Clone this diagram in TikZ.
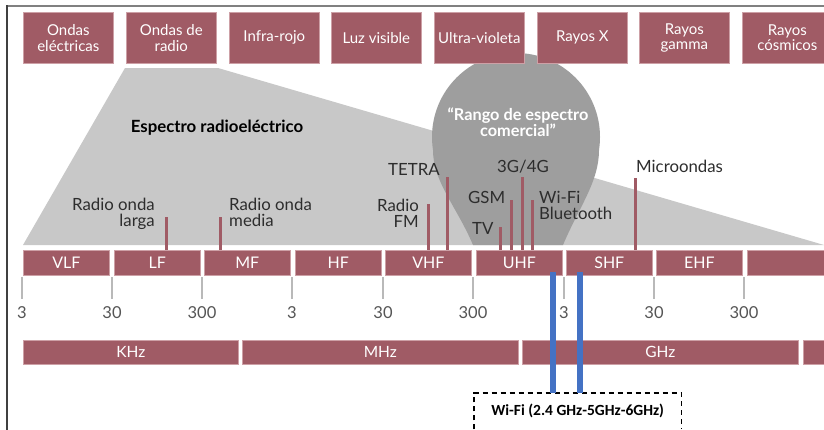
\documentclass[tikz,border=0pt]{standalone}
\usepackage{fontspec}
\setmainfont{Lato}
\newfontfamily\calfont{Carlito}
\definecolor{myred}{RGB}{160,91,101}
\definecolor{myredlight}{RGB}{205,160,166}
\definecolor{lightgraybg}{RGB}{200,200,200}
\definecolor{dropgray}{RGB}{158,158,158}
\definecolor{tickgray}{RGB}{185,185,185}
\definecolor{numgray}{RGB}{85,85,85}
\definecolor{lblgray}{RGB}{45,45,45}
\definecolor{wifiblue}{RGB}{68,114,196}
\definecolor{framegray}{RGB}{128,128,128}
\definecolor{framedark}{RGB}{64,64,64}
\begin{document}
\begin{tikzpicture}[x=1pt,y=-1pt,
 topbox/.style={anchor=north west, fill=myred, draw=myredlight, line width=0.7pt, text=white, minimum width=90pt, minimum height=51pt, inner sep=0pt, align=center, font=\fontsize{15}{15.5}\selectfont},
 bandbox/.style={anchor=north west, fill=myred, draw=myredlight, line width=0.6pt, text=white, minimum width=86pt, minimum height=25pt, inner sep=0pt, font=\fontsize{16}{16}\selectfont},
 unitbar/.style={anchor=north west, fill=myred, draw=myredlight, line width=0.6pt, text=white, minimum height=24pt, inner sep=0pt, font=\fontsize{15.5}{16}\selectfont},
 tickline/.style={draw=tickgray, line width=2.5pt},
 num/.style={text=numgray, font=\fontsize{16.5}{17}\selectfont, inner sep=0pt, anchor=north},
 lbl/.style={text=lblgray, font=\fontsize{16.8}{16}\selectfont, inner sep=0pt},
 marker/.style={draw=myred, line width=3pt},
 wifiline/.style={draw=wifiblue, line width=6pt},
]
\useasboundingbox (0,0) rectangle (824,429);
\clip (0,0) rectangle (824,429);
\fill[white] (0,0) rectangle (824,429);

% frame
\draw[framegray, line width=2pt] (7,6) -- (830,6);
\draw[framedark, line width=2pt] (7,5) -- (7,435);

% radio spectrum trapezoid
\fill[lightgraybg] (125,68) -- (218,68) -- (824,245) -- (23,245) -- cycle;

% commercial range teardrop
\fill[dropgray] (516,137) circle[radius=84];
\fill[dropgray] (433,150) .. controls (433,182) and (457,207) .. (473,245)
  -- (563,245) .. controls (579,207) and (599,182) .. (599,150) -- cycle;

% top boxes
\node[topbox] (ondel) at (23,12) {Ondas\\eléctricas};
\node[topbox] (ondrad) at (126,12) {Ondas de\\radio};
\node[topbox] (infra) at (229,12) {Infra-rojo};
\node[topbox] (luz) at (331,12) {Luz visible};
\node[topbox] (ultra) at (434,12) {Ultra-violeta};
\node[topbox] (rx) at (537,12) {Rayos X};
\node[topbox] (rgam) at (639,12) {Rayos\\gamma};
\node[topbox] (rcos) at (742,12) {Rayos\\cósmicos};

% titles
\node[font=\bfseries\fontsize{16.8}{17}\selectfont, text=black, inner sep=0pt] (esp) at (217,128) {Espectro radioeléctrico};
\node[font=\bfseries\fontsize{16.3}{15.5}\selectfont, text=white, align=center, inner sep=0pt] (rango) at (518,122) {“Rango de espectro\\comercial”};

% band boxes
\node[bandbox] (vlf) at (23,250) {VLF};
\node[bandbox] (lf) at (114,250) {LF};
\node[bandbox] (mf) at (204,250) {MF};
\node[bandbox] (hf) at (295,250) {HF};
\node[bandbox] (vhf) at (385,250) {VHF};
\node[bandbox] (uhf) at (476,250) {UHF};
\node[bandbox] (shf) at (566,250) {SHF};
\node[bandbox] (ehf) at (656,250) {EHF};
\node[bandbox] (xband) at (747,250) {};

% service labels
\node[lbl, align=right, anchor=north east] (rol) at (155,198) {Radio onda\\larga};
\node[lbl, align=left, anchor=north west] (rom) at (229,198) {Radio onda\\media};
\node[lbl, anchor=north west] (tetra) at (388,163) {TETRA};
\node[lbl, align=right, anchor=north east] (rfm) at (419,199) {Radio\\FM};
\node[lbl, anchor=north west] (g34) at (497,160) {3G/4G};
\node[lbl, anchor=north west] (gsm) at (468,191) {GSM};
\node[lbl, anchor=north west] (tv) at (472,222) {TV};
\node[lbl, align=left, anchor=north west] (wifibt) at (539,191) {Wi-Fi\\Bluetooth};
\node[lbl, anchor=north west] (micro) at (636,160) {Microondas};

% markers
\draw[marker] (166,217) -- (166,0 |- lf.north);
\draw[marker] (220,217) -- (220,0 |- mf.north);
\draw[marker] (428,204) -- (428,0 |- vhf.north);
\draw[marker] (447,177) -- (447,0 |- vhf.north);
\draw[marker] (500,227) -- (500,0 |- uhf.north);
\draw[marker] (511,200) -- (511,0 |- uhf.north);
\draw[marker] (522,177) -- (522,0 |- uhf.north);
\draw[marker] (532,200) -- (532,0 |- uhf.north);
\draw[marker] (635,178) -- (635,0 |- shf.north);

% ticks and numbers
\foreach \x/\t [count=\i] in {22/3,112/30,202/300,292/3,383/30,473/300,564/3,654/30,744/300}{
  \coordinate (tk\i) at (\x,277);
  \draw[tickline] (tk\i) -- ++(0,22);
  \node[num] (n\i) at (\x,306) {\t};
}

% unit bars
\node[unitbar, minimum width=215pt] (khz) at (23,340) {KHz};
\node[unitbar, minimum width=276pt] (mhz) at (242,340) {MHz};
\node[unitbar, minimum width=276pt] (ghz) at (522,340) {GHz};
\node[unitbar, minimum width=60pt] (thz) at (803,340) {};

% wifi box
\node[minimum width=207pt, minimum height=36pt, inner sep=0pt, anchor=north west,
  font=\calfont\bfseries\fontsize{15.5}{16}\selectfont, text=black] (wifi) at (474,393) {Wi-Fi (2.4 GHz-5GHz-6GHz)};
\draw[black, line width=1.1pt, dash pattern=on 5pt off 4pt] (wifi.south west) -- (wifi.north west) -- (wifi.north east) -- (wifi.south east);

% wifi blue lines
\coordinate (w1) at (553,272);
\coordinate (w2) at (580,272);
\draw[wifiline] (w1) -- (w1 |- wifi.north);
\draw[wifiline] (w2) -- (w2 |- wifi.north);
\end{tikzpicture}
\end{document}
